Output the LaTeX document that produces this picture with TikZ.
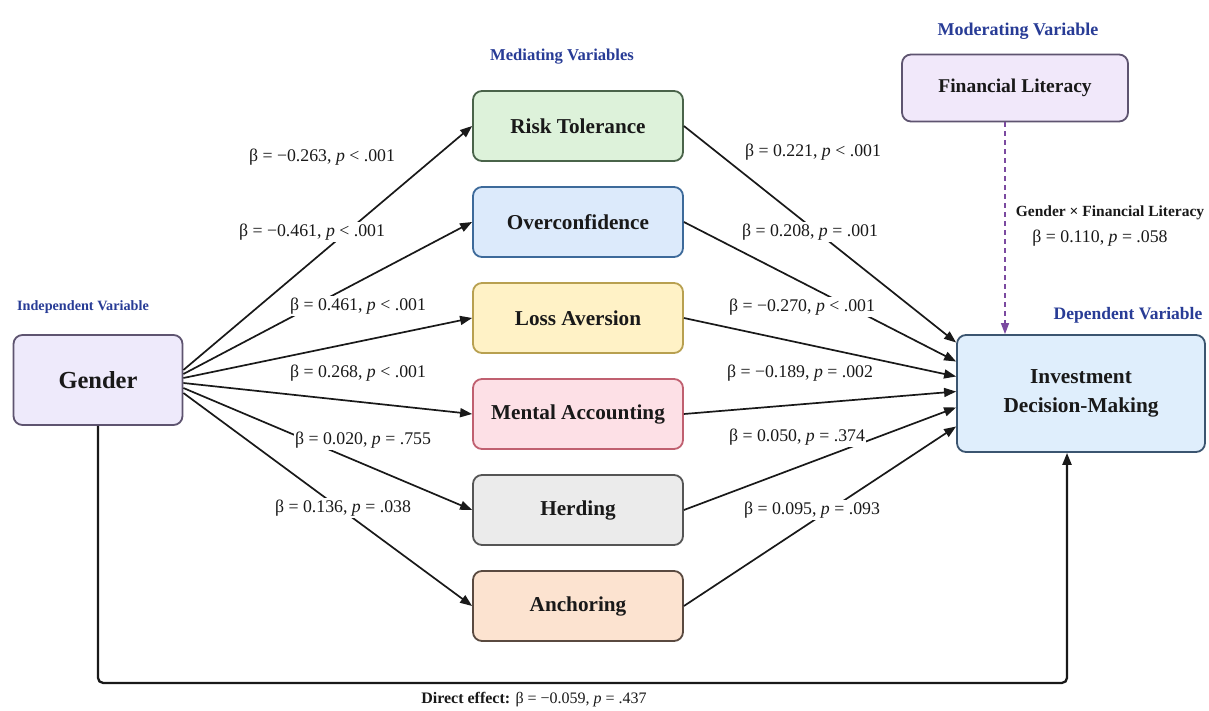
\documentclass[tikz,border=0pt]{standalone}
\usepackage{fontspec}
\setmainfont{Liberation Serif}
\usetikzlibrary{arrows.meta,calc}
\definecolor{hdrblue}{RGB}{40,60,150}
\definecolor{txt}{RGB}{25,25,25}
\definecolor{linec}{RGB}{25,25,25}
\definecolor{genfill}{RGB}{238,234,251}
\definecolor{gendraw}{RGB}{94,84,112}
\definecolor{riskfill}{RGB}{221,242,218}
\definecolor{riskdraw}{RGB}{74,100,74}
\definecolor{overfill}{RGB}{220,234,251}
\definecolor{overdraw}{RGB}{61,106,154}
\definecolor{lossfill}{RGB}{255,242,198}
\definecolor{lossdraw}{RGB}{184,160,80}
\definecolor{mentfill}{RGB}{253,224,230}
\definecolor{mentdraw}{RGB}{192,96,112}
\definecolor{herdfill}{RGB}{235,235,235}
\definecolor{herddraw}{RGB}{85,85,85}
\definecolor{anchfill}{RGB}{252,227,208}
\definecolor{anchdraw}{RGB}{90,74,64}
\definecolor{flfill}{RGB}{241,232,250}
\definecolor{idmfill}{RGB}{223,238,252}
\definecolor{idmdraw}{RGB}{59,85,112}
\definecolor{modpurple}{RGB}{123,74,160}
\begin{document}
\begin{tikzpicture}[x=1pt,y=-1pt,
  box/.style={draw, rounded corners=9pt, line width=1.8pt, minimum width=210pt, minimum height=70pt,
    font=\fontsize{21.2}{24}\selectfont\bfseries, text=txt, inner sep=0pt, align=center},
  lab/.style={fill=white, inner sep=1.5pt, font=\fontsize{17.8}{20}\selectfont, text=txt},
  hdr/.style={font=\fontsize{16}{19}\selectfont\bfseries, text=hdrblue},
  arr/.style={-{Triangle[length=12pt,width=9pt]}, line width=1.7pt, draw=linec},
  modarr/.style={-{Triangle[length=11pt,width=8pt]}, line width=1.4pt, draw=modpurple, dash pattern=on 5pt off 4pt}
]
\useasboundingbox[fill=white] (0,0) rectangle (1209,711);

% headers
\node[hdr, font=\fontsize{14.2}{17}\selectfont\bfseries] (hind) at (83,307) {Independent Variable};
\node[hdr, font=\fontsize{16.6}{19}\selectfont\bfseries] (hmed) at (562,57) {Mediating Variables};
\node[hdr, font=\fontsize{18}{21}\selectfont\bfseries] (hmod) at (1018,31) {Moderating Variable};
\node[hdr, font=\fontsize{17.5}{21}\selectfont\bfseries] (hdep) at (1128,315) {Dependent Variable};

% boxes
\node[box, fill=genfill, draw=gendraw, minimum width=169pt, minimum height=90pt,
  font=\fontsize{24.5}{28}\selectfont\bfseries] (gender) at (98,380) {Gender};
\node[box, fill=riskfill, draw=riskdraw] (risk) at (578,126) {Risk Tolerance};
\node[box, fill=overfill, draw=overdraw] (over) at (578,222) {Overconfidence};
\node[box, fill=lossfill, draw=lossdraw] (loss) at (578,318) {Loss Aversion};
\node[box, fill=mentfill, draw=mentdraw] (ment) at (578,414) {Mental Accounting};
\node[box, fill=herdfill, draw=herddraw] (herd) at (578,510) {Herding};
\node[box, fill=anchfill, draw=anchdraw] (anch) at (578,606) {Anchoring};
\node[box, fill=flfill, draw=gendraw, minimum width=226pt, minimum height=67pt,
  font=\fontsize{19.5}{23}\selectfont\bfseries] (fl) at (1015,88) {Financial Literacy};
\node[box, fill=idmfill, draw=idmdraw, minimum width=248pt, minimum height=117pt,
  font=\fontsize{21.3}{29}\selectfont\bfseries] (idm) at (1081,393.5) {Investment\\Decision-Making};

% gender -> mediators
\draw[arr] ($(gender.east)+(0,-10)$) -- (risk.west);
\draw[arr] ($(gender.east)+(0,-6)$) -- (over.west);
\draw[arr] ($(gender.east)+(0,-2)$) -- (loss.west);
\draw[arr] ($(gender.east)+(0,3)$) -- (ment.west);
\draw[arr] ($(gender.east)+(0,8)$) -- (herd.west);
\draw[arr] ($(gender.east)+(0,13)$) -- (anch.west);

% mediators -> IDM
\draw[arr] (risk.east) -- ($(idm.west)+(0,-51)$);
\draw[arr] (over.east) -- ($(idm.west)+(0,-32)$);
\draw[arr] (loss.east) -- ($(idm.west)+(0,-17)$);
\draw[arr] (ment.east) -- ($(idm.west)+(0,-2)$);
\draw[arr] (herd.east) -- ($(idm.west)+(0,14)$);
\draw[arr] (anch.east) -- ($(idm.west)+(0,33)$);

% direct effect
\draw[arr, line width=2.3pt, rounded corners=5pt] (gender.south) -- ++(0,257) -| ($(idm.south)+(-14,0)$);

% moderation
\draw[modarr] ($(fl.south)+(-10,0)$) -- ($(idm.north)+(-76,0)$);

% left labels
\node[lab] (l1) at (322,157) {β = −0.263, \textit{p} < .001};
\node[lab] (l2) at (312,232) {β = −0.461, \textit{p} < .001};
\node[lab] (l3) at (358,306) {β = 0.461, \textit{p} < .001};
\node[lab] (l4) at (358,373) {β = 0.268, \textit{p} < .001};
\node[lab] (l5) at (363,440) {β = 0.020, \textit{p} = .755};
\node[lab] (l6) at (343,508) {β = 0.136, \textit{p} = .038};

% right labels
\node[lab] (r1) at (813,152) {β = 0.221, \textit{p} < .001};
\node[lab] (r2) at (810,232) {β = 0.208, \textit{p} = .001};
\node[lab] (r3) at (802,307) {β = −0.270, \textit{p} < .001};
\node[lab] (r4) at (800,373) {β = −0.189, \textit{p} = .002};
\node[lab] (r5) at (797,437) {β = 0.050, \textit{p} = .374};
\node[lab] (r6) at (812,510) {β = 0.095, \textit{p} = .093};

% moderation labels
\node[font=\fontsize{15.5}{18}\selectfont\bfseries, text=txt, inner sep=1pt] (m1) at (1110,213) {Gender × Financial Literacy};
\node[lab, fill=none] (m2) at (1100,238) {β = 0.110, \textit{p} = .058};

% direct effect label
\node[font=\fontsize{16}{19}\selectfont, text=txt] (de) at (534,700) {\textbf{Direct effect:} β = −0.059, \textit{p} = .437};
\end{tikzpicture}
\end{document}
